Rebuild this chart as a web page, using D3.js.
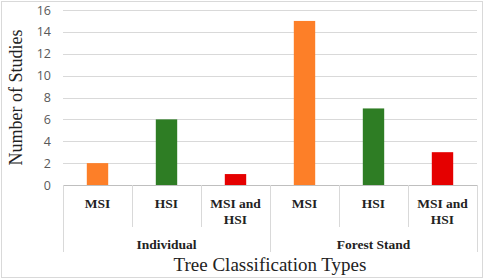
<!DOCTYPE html>
<html>
<head>
<meta charset="utf-8">
<script src="https://cdn.jsdelivr.net/npm/d3@7"></script>
<style>
  body { margin: 0; background: #fff; }
</style>
</head>
<body>
<div id="chart"></div>
<script>
// chart data
const groups = ["Individual", "Forest Stand"];
const subtypes = ["MSI", "HSI", "MSI and HSI"];
const studies = [[2, 6, 1], [15, 7, 3]];
const barColors = ["#fd7f28", "#2e7d24", "#e50000"];
const yTicks = [0, 2, 4, 6, 8, 10, 12, 14, 16];

const width = 484;
const height = 280;
const margin = { top: 10, right: 7, bottom: 95, left: 63 };

// flatten into one row per bar
const rows = [];
groups.forEach((g, gi) => {
  subtypes.forEach((s, si) => {
    rows.push({ key: g + "|" + s, group: g, sub: s, si: si, value: studies[gi][si] });
  });
});

const svg = d3.select("#chart")
  .append("svg")
  .attr("width", width)
  .attr("height", height);

// outer frame
svg.append("rect")
  .attr("x", 1.5).attr("y", 1.5)
  .attr("width", width - 3).attr("height", height - 4)
  .attr("fill", "none")
  .attr("stroke", "#d9d9d9");

const xScale = d3.scaleBand()
  .domain(rows.map(d => d.key))
  .range([margin.left, width - margin.right])
  .paddingInner(0)
  .paddingOuter(0);

const yScale = d3.scaleLinear()
  .domain([0, 16])
  .range([height - margin.bottom, margin.top]);

const y0 = yScale(0);

// gridlines
svg.append("g")
  .selectAll("line.grid")
  .data(yTicks.filter(t => t > 0))
  .join("line")
  .attr("class", "grid")
  .attr("x1", margin.left)
  .attr("x2", width - margin.right)
  .attr("y1", d => Math.round(yScale(d)) + 0.5)
  .attr("y2", d => Math.round(yScale(d)) + 0.5)
  .attr("stroke", "#d9d9d9");

// y axis labels
const yAxis = d3.axisLeft(yScale).tickValues(yTicks).tickSize(0).tickPadding(12);
const yAxisGroup = svg.append("g")
  .attr("transform", `translate(${margin.left}, 0)`)
  .call(yAxis);
yAxisGroup.select(".domain").remove();
yAxisGroup.selectAll("text")
  .attr("font-family", "Open Sans, sans-serif")
  .attr("font-size", 12.5)
  .attr("fill", "#595959");

// y title
svg.append("text")
  .attr("transform", `translate(22, ${(margin.top + y0) / 2}) rotate(-90)`)
  .attr("text-anchor", "middle")
  .attr("font-family", "Liberation Serif, serif")
  .attr("font-size", 18)
  .attr("fill", "#222")
  .text("Number of Studies");

// bars
const bw = xScale.bandwidth() * 0.31;
svg.selectAll("rect.bar")
  .data(rows)
  .join("rect")
  .attr("class", "bar")
  .attr("x", d => xScale(d.key) + (xScale.bandwidth() - bw) / 2)
  .attr("y", d => yScale(d.value))
  .attr("width", bw)
  .attr("height", d => y0 - yScale(d.value))
  .attr("fill", d => barColors[d.si]);

// baseline
svg.append("line")
  .attr("x1", margin.left).attr("x2", width - margin.right)
  .attr("y1", Math.round(y0) + 0.5).attr("y2", Math.round(y0) + 0.5)
  .attr("stroke", "#bfbfbf");

// category separators (inner short, group boundaries long)
const innerBottom = 227;
const outerBottom = 252;
const bounds = rows.map(d => xScale(d.key)).concat([xScale.range()[1]]);
svg.selectAll("line.sep")
  .data(bounds)
  .join("line")
  .attr("class", "sep")
  .attr("x1", d => Math.round(d) + 0.5)
  .attr("x2", d => Math.round(d) + 0.5)
  .attr("y1", y0)
  .attr("y2", (d, i) => (i % subtypes.length === 0) ? outerBottom : innerBottom)
  .attr("stroke", "#d9d9d9");

// subtype labels
const subLabels = svg.selectAll("text.sub")
  .data(rows)
  .join("text")
  .attr("class", "sub")
  .attr("text-anchor", "middle")
  .attr("font-family", "Liberation Serif, serif")
  .attr("font-weight", "bold")
  .attr("font-size", 13.5)
  .attr("fill", "#222");
subLabels.each(function (d) {
  const cx = xScale(d.key) + xScale.bandwidth() / 2;
  const words = d.sub === "MSI and HSI" ? ["MSI and", "HSI"] : [d.sub];
  d3.select(this).selectAll("tspan")
    .data(words)
    .join("tspan")
    .attr("x", cx)
    .attr("y", (w, i) => 208 + i * 16)
    .text(w => w);
});

// group labels
svg.selectAll("text.group")
  .data(groups)
  .join("text")
  .attr("class", "group")
  .attr("text-anchor", "middle")
  .attr("font-family", "Liberation Serif, serif")
  .attr("font-weight", "bold")
  .attr("font-size", 13.5)
  .attr("fill", "#222")
  .attr("x", g => {
    const first = xScale(g + "|" + subtypes[0]);
    const last = xScale(g + "|" + subtypes[subtypes.length - 1]) + xScale.bandwidth();
    return (first + last) / 2;
  })
  .attr("y", 249)
  .text(g => g);

// x title
svg.append("text")
  .attr("x", (margin.left + width - margin.right) / 2)
  .attr("y", 271)
  .attr("text-anchor", "middle")
  .attr("font-family", "Liberation Serif, serif")
  .attr("font-size", 19)
  .attr("fill", "#222")
  .text("Tree Classification Types");
</script>
</body>
</html>
